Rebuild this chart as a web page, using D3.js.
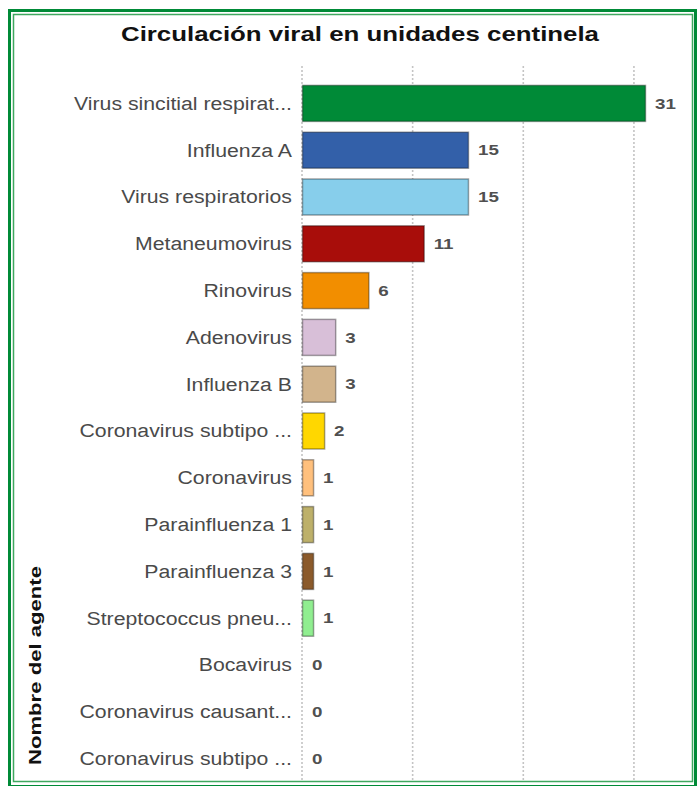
<!DOCTYPE html>
<html>
<head>
<meta charset="utf-8">
<script src="https://cdn.jsdelivr.net/npm/d3@7"></script>
<style>
  body { margin: 0; background: #fff; }
  svg { display: block; font-family: "Liberation Sans", Arial, sans-serif; }
</style>
</head>
<body>
<div id="chart"></div>
<script>
// Circulación viral - bar chart

const agentes = [
    "Virus sincitial respirat...",
    "Influenza A",
    "Virus respiratorios",
    "Metaneumovirus",
    "Rinovirus",
    "Adenovirus",
    "Influenza B",
    "Coronavirus subtipo ...",
    "Coronavirus",
    "Parainfluenza 1",
    "Parainfluenza 3",
    "Streptococcus pneu...",
    "Bocavirus",
    "Coronavirus causant...",
    "Coronavirus subtipo ..."
];
const casos = [31, 15, 15, 11, 6, 3, 3, 2, 1, 1, 1, 1, 0, 0, 0];
const colores = ["#008a37", "#3360a9", "#87ceeb", "#a80d0a", "#f28e00", "#d8bfd8",
                 "#d2b48c", "#ffd700", "#ffc07d", "#bdb06a", "#8b5a2b", "#90ee90",
                 "#cccccc", "#cccccc", "#cccccc"];
const xTicks = [0, 10, 20, 30];

const W = 700, H = 786;
const margin = {left: 302, right: 54, top: 80, bottom: 4};

// the original text is drawn a bit wide - stretch it horizontally
function stretch(sel, k) {
    sel.each(function() {
	const len = this.getComputedTextLength();
	d3.select(this)
	    .attr("textLength", len * k)
	    .attr("lengthAdjust", "spacingAndGlyphs");
    });
}

const svg = d3.select("#chart").append("svg")
      .attr("width", W)
      .attr("height", H);

// double green frame
svg.append("rect")
    .attr("x", 9.5).attr("y", 10.5)
    .attr("width", 686).attr("height", 776)
    .attr("fill", "none")
    .attr("stroke", "#008a37")
    .attr("stroke-width", 3);
svg.append("rect")
    .attr("x", 13.5).attr("y", 14.5)
    .attr("width", 679).attr("height", 767)
    .attr("fill", "none")
    .attr("stroke", "#3fa85f")
    .attr("stroke-width", 1.5);

svg.append("text")
    .attr("x", 360).attr("y", 41)
    .attr("text-anchor", "middle")
    .attr("font-size", 21)
    .attr("font-weight", "bold")
    .attr("fill", "#111")
    .text("Circulación viral en unidades centinela")
    .call(stretch, 1.23);

const x = d3.scaleLinear()
      .domain([0, 31])
      .range([margin.left, 645]);

const y = d3.scaleBand()
      .domain(d3.range(agentes.length))
      .range([margin.top, H - margin.bottom])
      .paddingInner(0.23)
      .paddingOuter(0.115);

// dotted grid
svg.append("g")
    .selectAll("line")
    .data(xTicks)
    .enter().append("line")
    .attr("x1", d => x(d)).attr("x2", d => x(d))
    .attr("y1", 66).attr("y2", H - 4)
    .attr("stroke", "#c4c4c4")
    .attr("stroke-width", 1.6)
    .attr("stroke-dasharray", "2,2");

// bars
svg.append("g")
    .selectAll("rect")
    .data(casos.map((v, i) => ({v: v, i: i})).filter(d => d.v > 0))
    .enter().append("rect")
    .attr("x", x(0) + 0.5)
    .attr("y", d => y(d.i))
    .attr("width", d => x(d.v) - x(0))
    .attr("height", y.bandwidth())
    .attr("fill", d => colores[d.i])
    .attr("stroke", "rgba(0,0,0,0.35)")
    .attr("stroke-width", 1.5);

// category labels
svg.append("g")
    .selectAll("text")
    .data(agentes)
    .enter().append("text")
    .attr("x", 292)
    .attr("y", (d, i) => y(i) + y.bandwidth() / 2)
    .attr("dy", "0.35em")
    .attr("text-anchor", "end")
    .attr("font-size", 18)
    .attr("fill", "#4a4a4a")
    .text(d => d)
    .call(stretch, 1.18);

// value labels
svg.append("g")
    .selectAll("text")
    .data(casos)
    .enter().append("text")
    .attr("x", d => x(d) + 10)
    .attr("y", (d, i) => y(i) + y.bandwidth() / 2)
    .attr("dy", "0.35em")
    .attr("font-size", 15)
    .attr("font-weight", "bold")
    .attr("fill", "#505050")
    .text(d => d)
    .call(stretch, 1.25);

// axis title
svg.append("text")
    .attr("transform", "translate(41,765) rotate(-90)")
    .attr("font-size", 17)
    .attr("font-weight", "bold")
    .attr("fill", "#111")
    .attr("textLength", 199)
    .attr("lengthAdjust", "spacingAndGlyphs")
    .text("Nombre del agente");
</script>
</body>
</html>
